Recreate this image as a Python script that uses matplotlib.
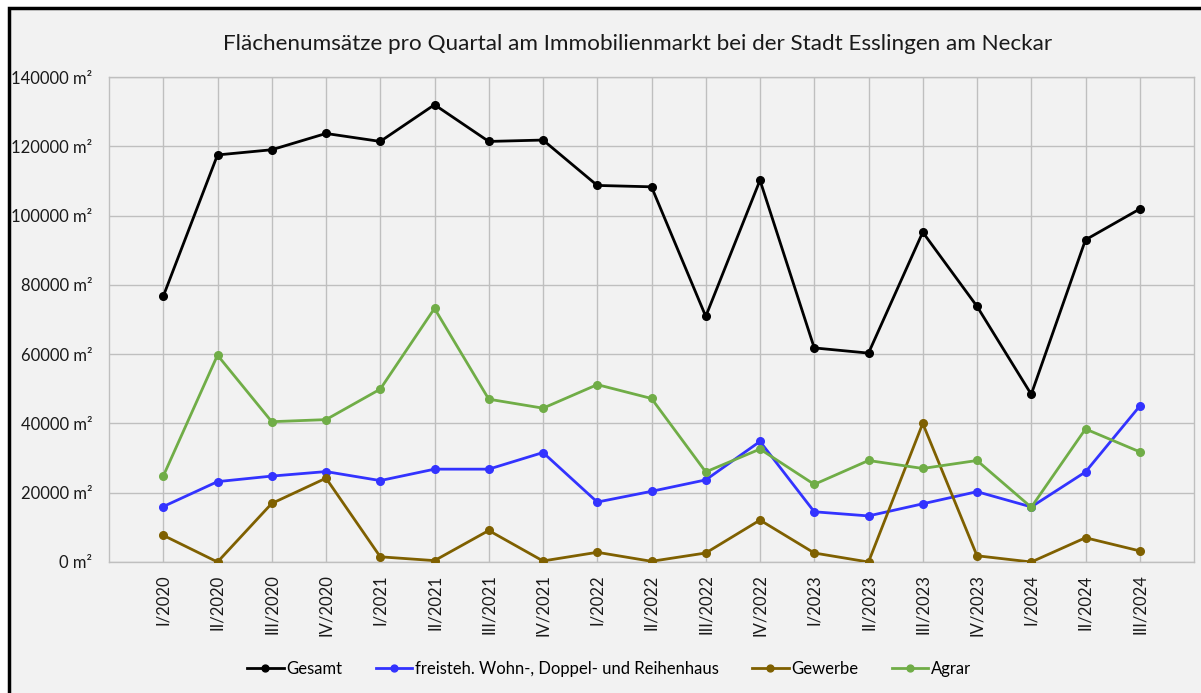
"""
Flächenumsätze pro Quartal - Esslingen am Neckar
"""
import matplotlib
matplotlib.use("Agg")
import matplotlib.pyplot as plt
from matplotlib.patches import Rectangle
from matplotlib.ticker import FuncFormatter

quarters = ["I/2020", "II/2020", "III/2020", "IV/2020",
            "I/2021", "II/2021", "III/2021", "IV/2021",
            "I/2022", "II/2022", "III/2022", "IV/2022",
            "I/2023", "II/2023", "III/2023", "IV/2023",
            "I/2024", "II/2024", "III/2024"]

gesamt = [76700, 117500, 119000, 123700, 121400, 132000, 121400, 121800,
          108700, 108300, 70900, 110200, 61800, 60300, 95200, 73800,
          48400, 93000, 101900]
wohnhaus = [16000, 23200, 24800, 26100, 23500, 26800, 26800, 31600,
            17300, 20400, 23700, 34800, 14500, 13300, 16800, 20300,
            15900, 26000, 45000]
gewerbe = [7700, 0, 16900, 24200, 1500, 400, 9100, 300,
           2800, 200, 2600, 12100, 2600, 0, 40000, 1800,
           0, 7000, 3200]
agrar = [24800, 59700, 40500, 41100, 49900, 73200, 47000, 44400,
         51200, 47200, 26000, 32600, 22400, 29300, 27000, 29300,
         15800, 38400, 31800]

series = [
    ("Gesamt", gesamt, "#000000"),
    ("freisteh. Wohn-, Doppel- und Reihenhaus", wohnhaus, "#3333FF"),
    ("Gewerbe", gewerbe, "#7F6000"),
    ("Agrar", agrar, "#70AD47"),
]

plt.rcParams["font.family"] = ["Lato", "DejaVu Sans"]

fig = plt.figure(figsize=(12.01, 6.93), dpi=100)
fig.patch.set_facecolor("white")

# grey chart area with black frame (left and top visible)
frame = Rectangle((8.5 / 1201, -0.1), 1.2, 1.1 - 8.5 / 693,
                  transform=fig.transFigure, facecolor="#F2F2F2",
                  edgecolor="black", linewidth=2.5, zorder=-10)
fig.patches.append(frame)

ax = fig.add_axes([109 / 1201, 1 - 562 / 693, (1194 - 109) / 1201, (562 - 77) / 693])
ax.set_facecolor("#F2F2F2")

x = list(range(len(quarters)))
for name, values, color in series:
    ax.plot(x, values, color=color, linewidth=2, marker="o", markersize=5.5,
            label=name, zorder=3)

ax.set_xlim(-1, len(quarters))
ax.set_ylim(0, 140000)
ax.set_yticks(range(0, 140001, 20000))
ax.yaxis.set_major_formatter(FuncFormatter(lambda v, p: f"{int(v)} m²"))
ax.set_xticks(x)
ax.set_xticklabels(quarters, rotation=90)
ax.tick_params(axis="both", length=0, labelsize=12, colors="#1a1a1a")
ax.tick_params(axis="y", pad=12)
ax.tick_params(axis="x", pad=9)

ax.grid(True, color="#BFBFBF", linewidth=1)
ax.set_axisbelow(True)
for spine in ax.spines.values():
    spine.set_color("#BFBFBF")
    spine.set_linewidth(1)

fig.text(0.5305, 1 - 44 / 693, "Flächenumsätze pro Quartal am Immobilienmarkt bei der Stadt Esslingen am Neckar",
         ha="center", va="center", fontsize=16.2, color="#1a1a1a")

fig.legend(loc="center", bbox_to_anchor=(0.507, 1 - 669 / 693), ncol=4,
           frameon=False, fontsize=12, handlelength=2.2, handletextpad=0.15,
           columnspacing=2.0, markerscale=0.9)

fig.savefig("out.png", dpi=100)
